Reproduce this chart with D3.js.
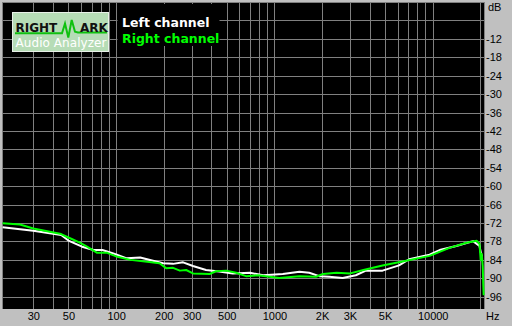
<!DOCTYPE html>
<html>
<head>
<meta charset="utf-8">
<script src="https://cdn.jsdelivr.net/npm/d3@7"></script>
<style>
body { margin: 0; background: #c0c0c0; }
svg { display: block; }
</style>
</head>
<body>
<svg id="chart"></svg>
<script>
var width = 512;
var height = 326;
var plotLeft = 2, plotRight = 485, plotTop = 2, plotBottom = 309;

var xTickValues = [30, 50, 100, 200, 300, 500, 1000, 2000, 3000, 5000, 10000];
var xTickText = ["30", "50", "100", "200", "300", "500", "1000", "2K", "3K", "5K", "10000"];
var gridFreqs = [30, 40, 50, 60, 70, 80, 90,
				 100, 200, 300, 400, 500, 600, 700, 800, 900,
				 1000, 2000, 3000, 4000, 5000, 6000, 7000, 8000, 9000,
				 10000, 20000];
var yTickValues = [-12, -18, -24, -30, -36, -42, -48, -54, -60, -66, -72, -78, -84, -90, -96];
var gridDb = [0, -6, -12, -18, -24, -30, -36, -42, -48, -54, -60, -66, -72, -78, -84, -90, -96];

// left channel (white)
var leftFreq = [19.2, 30, 45, 50, 61, 72, 82, 96, 117, 142, 171, 198, 229, 265, 306, 370, 448, 546,
				700, 850, 1130, 1440, 1660, 1920, 2220, 2700, 3270, 3780, 4820, 6130, 7100, 9550,
				11050, 14100, 17200, 18000, 19750, 20200, 20500];
var leftDb = [-73.4, -74.5, -75.9, -77.7, -79.7, -80.8, -80.8, -81.9, -83.5, -83.2, -84.3, -85.1, -85.3, -84.8, -86, -87.3, -87.8, -88.4,
			  -88.2, -89, -88.6, -87.9, -88.2, -89.3, -89.5, -89.9, -89, -87.5, -87.5, -85.8, -83.8, -82.3,
			  -80.8, -79.5, -78.2, -77.9, -79.5, -82, -83];

// right channel (green)
var rightFreq = [19.2, 24.7, 30, 45, 50, 59, 65.5, 76, 88, 102, 123, 162, 188, 207, 229, 253, 277, 306,
				 390, 428, 497, 573, 662, 789, 1075, 1440, 1830, 2025, 2470, 3010, 3650, 4820, 6440, 9550,
				 12760, 16370, 19000, 19750, 20100, 20400, 20700, 20900, 21000];
var rightDb = [-72.1, -72.5, -73.8, -75.6, -76.7, -78.4, -79.7, -81.7, -81.7, -83, -84, -84.7, -85.1, -86.7, -86.6, -87.5, -87.3, -88.4,
			   -88.6, -87.7, -87.5, -88.2, -89.3, -89, -89.9, -89.3, -89.5, -88.6, -88.2, -88.4, -87.3, -85.8, -84.5, -82.7,
			   -80.1, -78.4, -77.8, -78.8, -84, -82, -86, -93, -95.5];

var gridColor = "#808080";
var labelFont = "'Liberation Sans', Arial, sans-serif";

var x = d3.scaleLog().domain([30, 10000]).range([33.3, 432.7]);
var y = d3.scaleLinear().domain([0, -100]).range([plotTop, plotBottom]);

var svg = d3.select("#chart")
	.attr("width", width)
	.attr("height", height);

svg.append("rect")
	.attr("width", width)
	.attr("height", height)
	.attr("fill", "#c0c0c0");

svg.append("rect")
	.attr("x", plotLeft)
	.attr("y", plotTop)
	.attr("width", plotRight - plotLeft)
	.attr("height", plotBottom - plotTop)
	.attr("fill", "#000");

var crisp = function(v) { return Math.round(v) + 0.5; };

var gGrid = svg.append("g").attr("stroke", gridColor).attr("stroke-width", 1);
gGrid.selectAll("line.h").data(gridDb)
	.enter().append("line")
	.attr("class", "h")
	.attr("x1", plotLeft).attr("x2", plotRight)
	.attr("y1", function(d) { return crisp(y(d)); })
	.attr("y2", function(d) { return crisp(y(d)); });
gGrid.selectAll("line.v").data(gridFreqs)
	.enter().append("line")
	.attr("class", "v")
	.attr("y1", plotTop).attr("y2", plotBottom)
	.attr("x1", function(d) { return crisp(x(d)); })
	.attr("x2", function(d) { return crisp(x(d)); });
// frame
gGrid.append("line").attr("x1", 2.5).attr("x2", 2.5).attr("y1", plotTop).attr("y2", plotBottom);
gGrid.append("line").attr("x1", 484.5).attr("x2", 484.5).attr("y1", plotTop).attr("y2", plotBottom);

// curves
svg.append("clipPath").attr("id", "plotClip")
	.append("rect")
	.attr("x", plotLeft).attr("y", plotTop)
	.attr("width", plotRight - plotLeft).attr("height", plotBottom - plotTop);

var line = d3.line()
	.x(function(d) { return x(d[0]); })
	.y(function(d) { return y(d[1]); });

var gCurves = svg.append("g").attr("clip-path", "url(#plotClip)");
gCurves.append("path")
	.datum(d3.zip(leftFreq, leftDb))
	.attr("d", line)
	.attr("fill", "none")
	.attr("stroke", "#ffffff")
	.attr("stroke-width", 2)
	.attr("stroke-linejoin", "round");
gCurves.append("path")
	.datum(d3.zip(rightFreq, rightDb))
	.attr("d", line)
	.attr("fill", "none")
	.attr("stroke", "#00ff00")
	.attr("stroke-width", 2)
	.attr("stroke-linejoin", "round");

// axes
var xAxis = d3.axisBottom(x)
	.tickValues(xTickValues)
	.tickSize(0)
	.tickPadding(3)
	.tickFormat(function(d, i) { return xTickText[i]; });
var gX = svg.append("g")
	.attr("transform", "translate(0," + plotBottom + ")")
	.call(xAxis);
gX.select(".domain").remove();
gX.selectAll("text").attr("font-family", labelFont).attr("font-size", 11).attr("fill", "#000");

var yAxis = d3.axisRight(y)
	.tickValues(yTickValues)
	.tickSize(0)
	.tickPadding(1)
	.tickFormat(function(d) { return String(d); });
var gY = svg.append("g")
	.attr("transform", "translate(" + plotRight + ",0)")
	.call(yAxis);
gY.select(".domain").remove();
gY.selectAll("text").attr("font-family", labelFont).attr("font-size", 11).attr("fill", "#000");

svg.append("text")
	.attr("x", 488).attr("y", 11)
	.attr("font-family", labelFont).attr("font-size", 11)
	.text("dB");
svg.append("text")
	.attr("x", 486).attr("y", 320)
	.attr("font-family", labelFont).attr("font-size", 11)
	.text("Hz");

// logo
var gLogo = svg.append("g");
gLogo.append("rect")
	.attr("x", 12.5).attr("y", 12.5)
	.attr("width", 96).attr("height", 39)
	.attr("fill", "#b6dcb6")
	.attr("stroke", "#e8f0e8");
gLogo.append("path")
	.attr("d", "M15,33.3L62,33.3L65,23.5L68.3,37.5L71.7,20L75,31.7L78,32.5L107,32.5")
	.attr("fill", "none")
	.attr("stroke", "#10c010")
	.attr("stroke-width", 2);
gLogo.append("text")
	.attr("x", 15.5).attr("y", 31.5)
	.attr("font-family", "'DejaVu Sans', sans-serif")
	.attr("font-weight", "bold").attr("font-size", 12)
	.attr("fill", "#111")
	.text("RIGHT");
gLogo.append("text")
	.attr("x", 80).attr("y", 31.5)
	.attr("font-family", "'DejaVu Sans', sans-serif")
	.attr("font-weight", "bold").attr("font-size", 12)
	.attr("fill", "#111")
	.text("ARK");
gLogo.append("text")
	.attr("x", 15.5).attr("y", 46.5)
	.attr("font-family", "'DejaVu Sans', sans-serif")
	.attr("font-size", 12)
	.attr("textLength", 91)
	.attr("fill", "#fff")
	.text("Audio Analyzer");

// legend
var gLegend = svg.append("g");
gLegend.append("rect")
	.attr("x", 117.5).attr("y", 4)
	.attr("width", 102).attr("height", 42)
	.attr("fill", "#000");
gLegend.append("text")
	.attr("x", 122).attr("y", 27)
	.attr("font-family", "'DejaVu Sans', sans-serif")
	.attr("font-weight", "bold").attr("font-size", 12.5)
	.attr("fill", "#fff")
	.text("Left channel");
gLegend.append("text")
	.attr("x", 122).attr("y", 43)
	.attr("font-family", "'DejaVu Sans', sans-serif")
	.attr("font-weight", "bold").attr("font-size", 12.5)
	.attr("fill", "#00ff00")
	.text("Right channel");
</script>
</body>
</html>
